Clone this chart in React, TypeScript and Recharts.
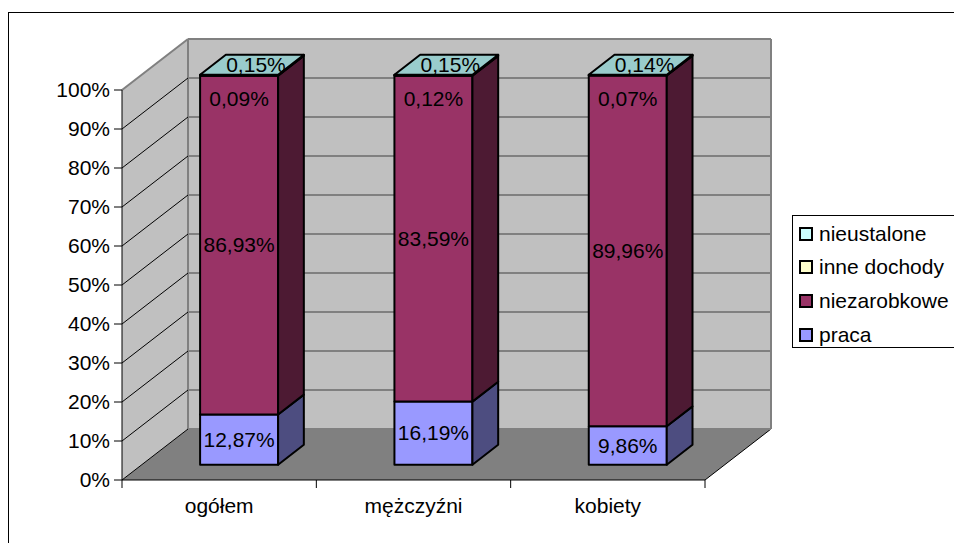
import React from "react";
import { BarChart, Bar, XAxis, YAxis, CartesianGrid, LabelList } from "recharts";

const categories = ["ogółem", "mężczyźni", "kobiety"];
const praca = [12.87, 16.19, 9.86];
const niezarobkowe = [86.93, 83.59, 89.96];
const inneDochody = [0.09, 0.12, 0.07];
const nieustalone = [0.15, 0.15, 0.14];
const yTicks = [0, 0.1, 0.2, 0.3, 0.4, 0.5, 0.6, 0.7, 0.8, 0.9, 1];

const data = categories.map((name, i) => ({
  name,
  praca: praca[i],
  niezarobkowe: niezarobkowe[i],
  inne: inneDochody[i],
  nieustalone: nieustalone[i],
}));

const series = [
  { key: "praca", label: "praca", values: praca, front: "#9999FF", side: "#4D4D80", top: "#7373BF" },
  { key: "niezarobkowe", label: "niezarobkowe", values: niezarobkowe, front: "#993366", side: "#4D1A33", top: "#73264D" },
  { key: "inne", label: "inne dochody", values: inneDochody, front: "#FFFFCC", side: "#808066", top: "#BFBF99" },
  { key: "nieustalone", label: "nieustalone", values: nieustalone, front: "#CCFFFF", side: "#668080", top: "#99CCCC" },
];

const FONT = "'Liberation Sans', Arial, sans-serif";
const FS = 21;
// floor depth (back edge offset) and where the bars sit inside it
const DX = 66;
const DY = -51;
const F0 = 0.3;
const F1 = 0.69;
const BX = DX * (F1 - F0);
const BY = DY * (F1 - F0);

const fmt = (v: number) => v.toFixed(2).replace(".", ",") + "%";

function makeShape(s: any, withTop: boolean) {
  return (p: any) => {
    const { x, y, width: w, height: h } = p;
    const fx = x + DX * F0;
    const fy = y + DY * F0;
    const st = { stroke: "#000", strokeWidth: 2, strokeLinejoin: "round" as const };
    return (
      <g>
        <rect x={fx} y={fy} width={w} height={h} fill={s.front} {...st} />
        <polygon
          points={`${fx + w},${fy} ${fx + w + BX},${fy + BY} ${fx + w + BX},${fy + h + BY} ${fx + w},${fy + h}`}
          fill={s.side}
          {...st}
        />
        {withTop && (
          <polygon
            points={`${fx},${fy} ${fx + BX},${fy + BY} ${fx + w + BX},${fy + BY} ${fx + w},${fy}`}
            fill={s.top}
            {...st}
          />
        )}
      </g>
    );
  };
}

function makeLabel(s: any, mode: string) {
  return (p: any) => {
    const { x, y, width: w, height: h, index } = p;
    const cx = x + w / 2 + DX * F0;
    let tx = cx;
    let ty = y + h / 2 + DY * F0;
    if (mode === "below") ty = y + DY * F0 + 23;
    if (mode === "top") {
      tx = cx + BX / 2 + 4;
      ty = y + DY * F0 + BY / 2;
    }
    return (
      <text x={tx} y={ty} dy="0.35em" textAnchor="middle" fontFamily={FONT} fontSize={FS} fill="#000">
        {fmt(s.values[index])}
      </text>
    );
  };
}

const gridLine = (p: any) => {
  const { x1, x2, y1, index, x, y, width: w, height: h } = p;
  const isTop = Math.abs(y1 - y) < 0.5;
  return (
    <g key={`gl-${index}`}>
      {index === 0 && (
        <g>
          <polygon
            points={`${x},${y + h} ${x},${y} ${x + DX},${y + DY} ${x + DX},${y + h + DY}`}
            fill="#C0C0C0"
          />
          <rect x={x + DX} y={y + DY} width={w} height={h} fill="#C0C0C0" />
          <polygon
            points={`${x},${y + h} ${x + w},${y + h} ${x + w + DX},${y + h + DY} ${x + DX},${y + h + DY}`}
            fill="#808080"
          />
          <line x1={x + DX} y1={y + DY} x2={x + DX} y2={y + h + DY} stroke="#808080" strokeWidth={2} />
          <line x1={x + w + DX} y1={y + DY} x2={x + w + DX} y2={y + h + DY} stroke="#808080" strokeWidth={2} />
          <line x1={x + w} y1={y + h} x2={x + w + DX} y2={y + h + DY} stroke="#000" strokeWidth={1} />
        </g>
      )}
      <line
        x1={x1}
        y1={y1}
        x2={x1 + DX}
        y2={y1 + DY}
        stroke={isTop ? "#808080" : "#000"}
        strokeWidth={isTop ? 2 : 1}
      />
      <line x1={x1 + DX} y1={y1 + DY} x2={x2 + DX} y2={y1 + DY} stroke="#808080" strokeWidth={2} />
    </g>
  );
};

const CatTick = (p: any) => {
  const { x, y, payload } = p;
  const off = payload.offset ?? 97;
  return (
    <g>
      {payload.index === 0 && <line x1={x - off} y1={y} x2={x - off} y2={y + 8} stroke="#000" />}
      <line x1={x + off} y1={y} x2={x + off} y2={y + 8} stroke="#000" />
      <text x={x} y={y + 26} dy="0.35em" textAnchor="middle" fontFamily={FONT} fontSize={FS} fill="#000">
        {payload.value}
      </text>
    </g>
  );
};

export default function App() {
  const legendItems = [...series].reverse();
  return (
    <div style={{ position: "fixed", left: 0, top: 0, width: 954, height: 543, overflow: "hidden", background: "#fff" }}>
      <div
        style={{
          position: "absolute",
          left: 8,
          top: 12,
          width: 1000,
          height: 600,
          borderLeft: "1px solid #000",
          borderTop: "1px solid #000",
        }}
      />
      <div style={{ position: "absolute", left: 0, top: 0 }}>
        <BarChart
          width={954}
          height={543}
          data={data}
          stackOffset="expand"
          barCategoryGap="30%"
          margin={{ top: 90, right: 249, bottom: 33, left: 22 }}
        >
          <CartesianGrid vertical={false} horizontal={gridLine} />
          <XAxis
            dataKey="name"
            height={30}
            tickLine={false}
            tickSize={0}
            tickMargin={0}
            axisLine={{ stroke: "#000", strokeWidth: 1 }}
            tick={<CatTick />}
          />
          <YAxis
            width={100}
            domain={[0, 1]}
            ticks={yTicks}
            tickFormatter={(v: number) => `${Math.round(v * 100)}%`}
            tick={{ fill: "#000", fontSize: FS, fontFamily: FONT }}
            tickSize={8}
            tickMargin={4}
            tickLine={{ stroke: "#000" }}
            axisLine={{ stroke: "#000" }}
          />
          {series.map((s, i) => (
            <Bar
              key={s.key}
              dataKey={s.key}
              stackId="a"
              fill={s.front}
              isAnimationActive={false}
              shape={makeShape(s, i === series.length - 1)}
            >
              <LabelList
                dataKey={s.key}
                content={makeLabel(s, s.key === "inne" ? "below" : s.key === "nieustalone" ? "top" : "center")}
              />
            </Bar>
          ))}
        </BarChart>
      </div>
      <div
        style={{
          position: "absolute",
          left: 792,
          top: 215,
          width: 200,
          height: 131,
          border: "1px solid #000",
          background: "#fff",
          fontFamily: FONT,
          fontSize: FS,
        }}
      >
        {legendItems.map((s, i) => (
          <div
            key={s.key}
            style={{
              position: "absolute",
              left: 6,
              top: 1 + i * 33.7,
              height: 33,
              display: "flex",
              alignItems: "center",
              whiteSpace: "nowrap",
            }}
          >
            <span
              style={{
                display: "inline-block",
                width: 10,
                height: 10,
                border: "2px solid #000",
                background: s.front,
                marginRight: 6,
              }}
            />
            <span>{s.label}</span>
          </div>
        ))}
      </div>
    </div>
  );
}
